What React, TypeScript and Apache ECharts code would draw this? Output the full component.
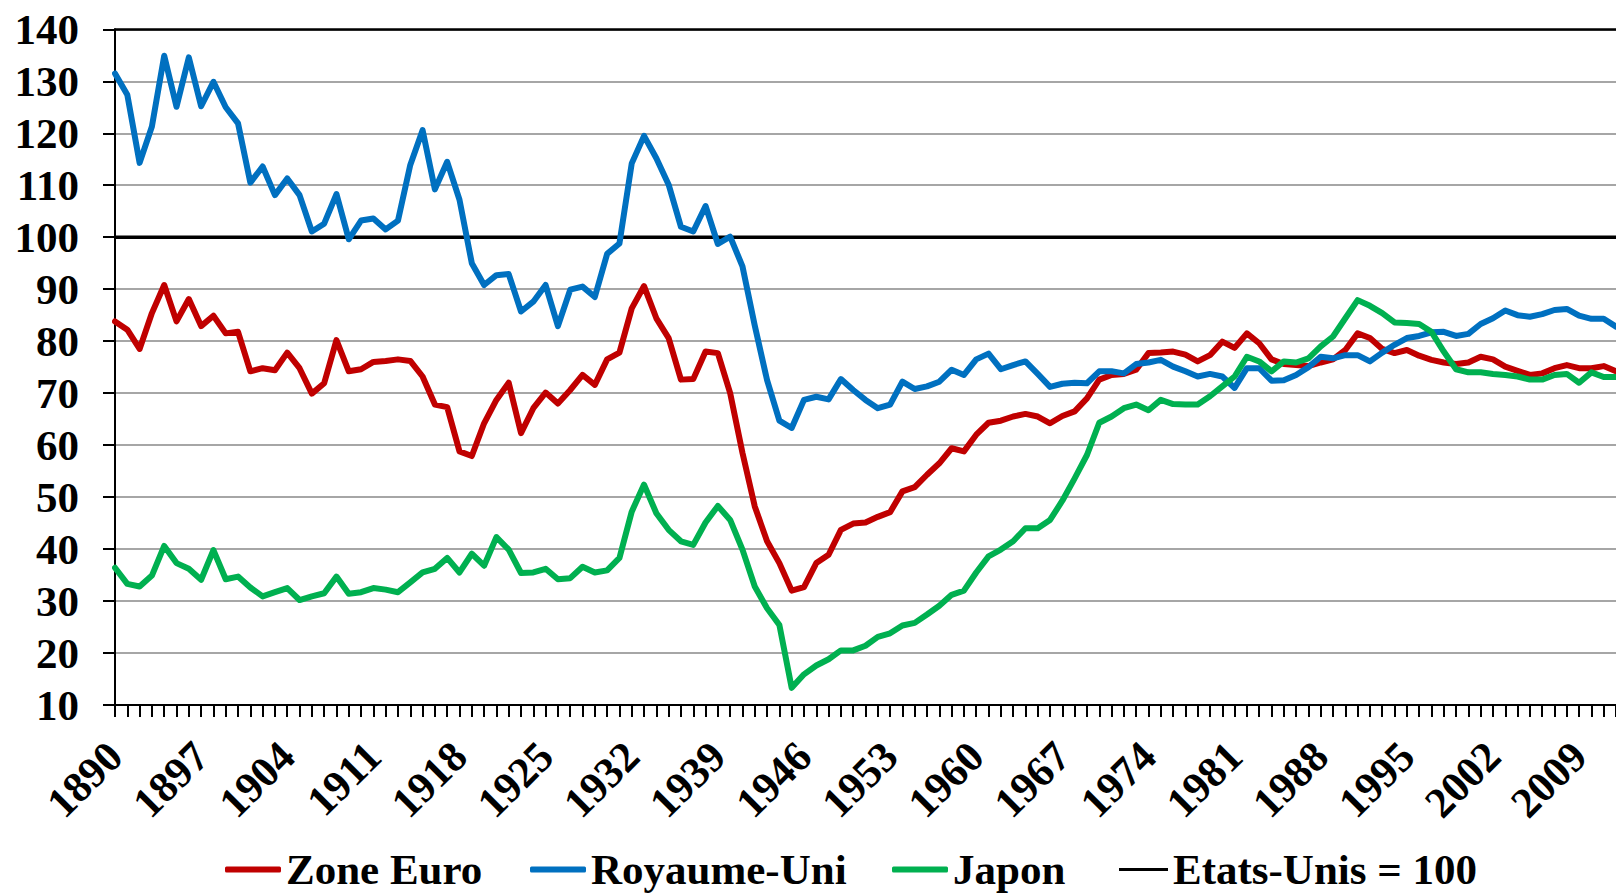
import React, { useEffect, useRef } from "react";
import * as echarts from "echarts";

const years: string[] = [];
for (let y = 1890; y <= 2012; y++) years.push(String(y));

const zoneEuro = [
  83.8, 82.2, 78.5, 85.4, 90.8, 83.8, 88.1, 82.9, 84.9, 81.5,
  81.8, 74.2, 74.8, 74.4, 77.8, 74.8, 69.9, 71.9, 80.2, 74.2,
  74.6, 76.0, 76.2, 76.5, 76.2, 73.2, 67.8, 67.3, 58.8, 57.9,
  64.2, 68.7, 72.0, 62.3, 67.1, 70.1, 68.0, 70.6, 73.5, 71.6,
  76.5, 77.8, 86.3, 90.6, 84.4, 80.6, 72.6, 72.7, 78.0, 77.7,
  70.0, 58.5, 48.2, 41.5, 37.3, 32.0, 32.7, 37.3, 38.9, 43.7,
  44.9, 45.1, 46.2, 47.1, 51.1, 51.9, 54.3, 56.5, 59.4, 58.8,
  62.0, 64.3, 64.7, 65.5, 66.0, 65.5, 64.2, 65.6, 66.5, 69.0,
  72.6, 73.5, 73.7, 74.5, 77.7, 77.8, 78.0, 77.4, 76.1, 77.3,
  79.9, 78.7, 81.5, 79.6, 76.5, 75.6, 75.4, 75.2, 75.9, 76.5,
  78.3, 81.5, 80.6, 78.5, 77.7, 78.3, 77.2, 76.4, 75.9, 75.6,
  75.9, 77.0, 76.5, 75.1, 74.3, 73.5, 73.8, 74.8, 75.4, 74.8,
  74.8, 75.2, 74.2,
];

const royaumeUni = [
  131.5, 127.4, 114.3, 121.3, 134.9, 125.1, 134.6, 125.2, 129.9, 125.0,
  121.9, 110.5, 113.6, 108.1, 111.3, 108.1, 101.1, 102.6, 108.3, 99.6,
  103.2, 103.6, 101.5, 103.2, 113.9, 120.6, 109.2, 114.5, 107.2, 95.0,
  90.8, 92.7, 92.9, 85.7, 87.6, 90.8, 82.9, 89.9, 90.5, 88.5,
  96.8, 98.8, 114.2, 119.5, 115.2, 110.1, 102.0, 101.1, 106.0, 98.7,
  100.1, 94.4, 83.0, 72.5, 64.7, 63.3, 68.7, 69.3, 68.8, 72.7,
  70.6, 68.7, 67.1, 67.8, 72.2, 70.8, 71.3, 72.2, 74.5, 73.5,
  76.5, 77.6, 74.6, 75.4, 76.1, 73.7, 71.2, 71.8, 72.0, 71.9,
  74.2, 74.2, 73.8, 75.6, 75.9, 76.4, 75.1, 74.2, 73.2, 73.7,
  73.2, 71.0, 74.8, 74.8, 72.4, 72.5, 73.5, 75.0, 77.0, 76.7,
  77.3, 77.3, 76.1, 77.8, 79.3, 80.6, 81.0, 81.7, 81.8, 81.0,
  81.4, 83.3, 84.4, 85.9, 85.0, 84.7, 85.2, 86.0, 86.2, 84.9,
  84.3, 84.3, 82.8,
];

const japon = [
  36.4, 33.3, 32.8, 34.9, 40.6, 37.3, 36.2, 34.1, 39.8, 34.2,
  34.7, 32.6, 30.9, 31.7, 32.5, 30.2, 30.9, 31.5, 34.7, 31.4,
  31.7, 32.5, 32.2, 31.7, 33.6, 35.5, 36.2, 38.3, 35.5, 39.1,
  36.8, 42.3, 39.9, 35.4, 35.5, 36.2, 34.2, 34.4, 36.6, 35.5,
  35.9, 38.3, 47.2, 52.4, 46.9, 43.7, 41.5, 40.8, 45.1, 48.3,
  45.6, 39.9, 32.8, 28.6, 25.4, 13.3, 15.9, 17.6, 18.8, 20.5,
  20.5, 21.4, 23.1, 23.8, 25.3, 25.8, 27.4, 29.1, 31.2, 32.0,
  35.5, 38.6, 39.9, 41.5, 44.0, 44.0, 45.6, 49.3, 53.6, 58.1,
  64.3, 65.5, 67.1, 67.8, 66.7, 68.7, 67.9, 67.8, 67.8, 69.4,
  71.3, 73.2, 77.0, 76.1, 74.2, 76.1, 75.9, 76.7, 79.0, 80.9,
  84.4, 87.9, 86.8, 85.4, 83.6, 83.5, 83.3, 81.8, 78.0, 74.6,
  74.0, 74.0, 73.7, 73.5, 73.2, 72.6, 72.6, 73.5, 73.7, 72.0,
  74.0, 73.1, 73.1,
];

const etatsUnis = years.map(() => 100);

const yTicks = { min: 10, max: 140, interval: 10 };

const FONT = "'Liberation Serif', 'Times New Roman', serif";

export default function App() {
  const ref = useRef<HTMLDivElement>(null);
  useEffect(() => {
    if (!ref.current) return;
    const chart = echarts.init(ref.current, null, { renderer: "svg" });
    const textStyle = {
      fontFamily: FONT,
      fontWeight: "bold" as const,
      fontSize: 43,
      color: "#000",
    };
    const legendBase = {
      top: 848,
      itemWidth: 56,
      itemHeight: 6,
      padding: 0,
      icon: "roundRect",
      textStyle,
    };
    chart.setOption({
      animation: false,
      backgroundColor: "#fff",
      grid: { left: 115, top: 29.3, bottom: 188, right: -1.3, containLabel: false },
      legend: [
        { ...legendBase, left: 225, data: ["Zone Euro"] },
        { ...legendBase, left: 530, data: ["Royaume-Uni"] },
        { ...legendBase, left: 892, data: ["Japon"] },
        { ...legendBase, left: 1119, itemWidth: 49, itemHeight: 3, icon: "rect", data: ["Etats-Unis = 100"] },
      ],
      xAxis: [
        {
          type: "category",
          data: years,
          boundaryGap: false,
          axisLine: { lineStyle: { color: "#000", width: 2 } },
          axisTick: { show: true, interval: 0, length: 12, lineStyle: { color: "#000", width: 2 } },
          axisLabel: { interval: 6, rotate: 45, margin: 44, ...textStyle },
          splitLine: { show: false },
        },
        {
          type: "category",
          data: years,
          boundaryGap: false,
          position: "top",
          axisLine: { lineStyle: { color: "#000", width: 2.5 } },
          axisTick: { show: false },
          axisLabel: { show: false },
          splitLine: { show: false },
        },
      ],
      yAxis: {
        type: "value",
        min: yTicks.min,
        max: yTicks.max,
        interval: yTicks.interval,
        axisLine: { show: true, lineStyle: { color: "#000", width: 2 } },
        axisTick: { show: true, length: 12, lineStyle: { color: "#000", width: 2 } },
        axisLabel: { margin: 36, ...textStyle },
        splitLine: { lineStyle: { color: "#A6A6A6", width: 2.2 } },
      },
      series: [
        {
          name: "Etats-Unis = 100",
          type: "line",
          data: etatsUnis,
          symbol: "none",
          z: 2,
          lineStyle: { color: "#000", width: 3.5 },
          itemStyle: { color: "#000" },
        },
        {
          name: "Zone Euro",
          type: "line",
          data: zoneEuro,
          symbol: "none",
          z: 3,
          lineStyle: { color: "#C00000", width: 6, cap: "round", join: "round" },
          itemStyle: { color: "#C00000" },
        },
        {
          name: "Royaume-Uni",
          type: "line",
          data: royaumeUni,
          symbol: "none",
          z: 4,
          lineStyle: { color: "#0070C0", width: 6, cap: "round", join: "round" },
          itemStyle: { color: "#0070C0" },
        },
        {
          name: "Japon",
          type: "line",
          data: japon,
          symbol: "none",
          z: 5,
          lineStyle: { color: "#00B050", width: 6, cap: "round", join: "round" },
          itemStyle: { color: "#00B050" },
        },
      ],
    });
    return () => chart.dispose();
  }, []);
  return (
    <div
      ref={ref}
      style={{ position: "fixed", left: 0, top: 0, width: 1616, height: 893, background: "#fff" }}
    />
  );
}
